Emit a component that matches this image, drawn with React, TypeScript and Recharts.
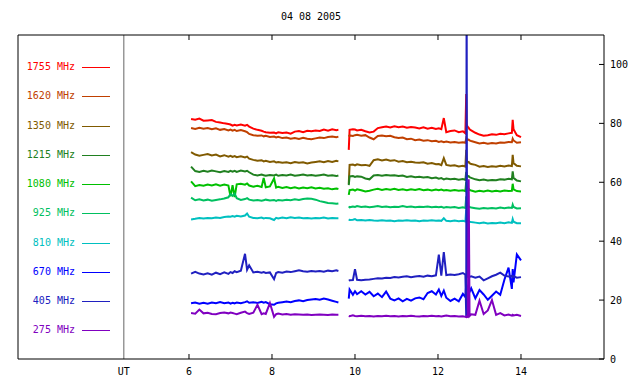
import { LineChart, Line, XAxis, YAxis, ReferenceLine, Legend } from "recharts";

const FONT = "'DejaVu Sans Mono', monospace";

// UT hours of the samples; 9.7 is the data gap
const TIMES = [
  6.05, 6.15, 6.25, 6.35, 6.45, 6.55, 6.65, 6.75, 6.85, 6.95,
  7.0, 7.05, 7.1, 7.15, 7.25, 7.35, 7.4, 7.45, 7.55, 7.65,
  7.75, 7.8, 7.85, 7.95, 8.05, 8.1, 8.15, 8.25, 8.35, 8.45,
  8.55, 8.65, 8.75, 8.85, 8.95, 9.05, 9.15, 9.25, 9.35, 9.45,
  9.55, 9.6,
  9.7,
  9.85, 9.87, 9.95, 10.0, 10.05, 10.15, 10.25, 10.35, 10.45, 10.55,
  10.65, 10.75, 10.85, 10.95, 11.05, 11.15, 11.25, 11.35, 11.45, 11.55,
  11.65, 11.75, 11.85, 11.95, 12.02, 12.08, 12.14, 12.2, 12.3, 12.4,
  12.5, 12.6, 12.66, 12.68, 12.69, 12.7, 12.72, 12.74, 12.76, 12.8,
  12.9, 13.0, 13.1, 13.2, 13.3, 13.4, 13.5, 13.6, 13.7, 13.78,
  13.8, 13.82, 13.9, 14.0,
];

const S1755 = [
  81.5, 81.2, 81.6, 80.9, 81.0, 81.1, 80.5, 80.3, 80.0, 79.8,
  79.6, 79.2, 79.5, 79.3, 79.6, 79.2, 79.5, 78.9, 78.2, 77.8,
  77.5, 77.2, 77.0, 76.8, 76.9, 76.6, 77.0, 76.7, 76.9, 76.5,
  77.2, 77.4, 77.0, 77.5, 77.3, 77.6, 77.4, 77.9, 77.5, 78.0,
  77.7, 77.8,
  null,
  71.0, 77.8, 78.0, 77.9, 77.6, 77.8, 77.3, 76.9, 77.2, 78.4,
  78.7, 78.9, 78.6, 79.0, 78.7, 78.9, 78.5, 78.8, 78.6, 78.3,
  78.7, 78.2, 78.5, 78.1, 78.3, 78.0, 81.8, 77.0, 77.4, 77.6,
  77.0, 77.3, 76.6, 90.0, 80.0, 79.2, 78.8, 78.5, 78.0, 77.6,
  76.8, 76.2, 75.8, 76.0, 76.3, 76.1, 76.5, 76.3, 76.6, 76.8,
  81.2, 78.0, 76.0, 75.3,
];

const S1620 = [
  78.4, 78.1, 78.5, 78.2, 78.4, 78.0, 78.3, 77.8, 78.1, 77.6,
  77.9, 77.5, 77.8, 77.4, 77.7, 77.3, 77.0, 76.4, 76.0, 75.8,
  75.9, 75.6, 75.8, 75.4, 75.5, 75.2, 75.4, 75.0, 75.2, 74.8,
  75.0, 74.7, 75.1, 74.8, 74.6, 74.9, 75.2, 75.0, 75.4, 75.5,
  75.3, 75.5,
  null,
  75.5, 75.9, 75.7, 76.0, 76.1, 75.8, 76.0, 75.2, 74.6, 75.7,
  75.9, 75.6, 75.8, 75.3, 75.0, 75.2, 74.6, 74.8, 74.3, 74.5,
  74.1, 74.3, 73.9, 74.1, 73.7, 73.9, 73.6, 73.8, 73.5, 73.7,
  73.4, 73.6, 73.4, 75.0, 74.8, 74.6, 74.4, 74.5, 74.2, 74.0,
  73.6, 73.2, 73.4, 73.1, 73.3, 73.2, 73.5, 73.4, 73.7, 73.6,
  74.8, 74.2, 73.4, 73.6,
];

const S1350 = [
  70.2, 69.4, 69.0, 69.3, 69.6, 69.1, 69.4, 68.8, 69.2, 68.7,
  69.0, 68.6, 68.9, 68.5, 68.8, 68.4, 68.7, 68.0, 67.6, 67.3,
  67.5, 67.1, 67.3, 66.9, 67.1, 66.7, 66.9, 66.6, 66.8, 66.5,
  66.9, 66.6, 66.8, 66.4, 66.7, 66.9, 67.1, 66.8, 67.2, 66.9,
  67.3, 67.1,
  null,
  59.5, 65.9, 66.0, 65.7, 66.1, 65.8, 65.9, 65.6, 67.5, 67.8,
  67.4, 67.7, 67.3, 67.5, 67.0, 67.2, 66.8, 67.0, 66.7, 66.6,
  66.8, 66.3, 66.5, 66.1, 66.2, 65.8, 68.2, 65.9, 65.6, 65.8,
  65.4, 65.6, 65.3, 71.0, 68.0, 67.0, 66.8, 66.9, 66.5, 66.2,
  65.9, 65.3, 65.5, 65.2, 65.4, 65.3, 65.6, 65.4, 65.7, 65.5,
  69.3, 66.5, 65.6, 65.4,
];

const S1215 = [
  65.3, 63.8, 63.5, 63.9, 63.6, 64.0, 63.7, 63.4, 63.8, 63.5,
  63.9, 63.6, 63.9, 63.5, 64.0, 63.7, 63.9, 63.4, 62.6, 62.3,
  62.6, 62.4, 62.2, 62.5, 62.3, 62.6, 62.2, 62.5, 62.3, 62.6,
  62.2, 62.4, 62.6, 62.3, 62.5, 62.2, 62.4, 62.6, 62.2, 62.4,
  62.1, 62.3,
  null,
  59.0, 62.0, 62.1, 61.8, 62.0, 61.9, 61.3, 61.0, 62.3, 62.5,
  62.2, 62.5, 62.3, 62.4, 62.1, 62.3, 61.8, 62.0, 61.7, 61.9,
  61.6, 61.8, 61.4, 61.6, 61.2, 61.4, 61.0, 61.3, 61.0, 61.2,
  60.9, 61.1, 60.8, 63.5, 62.8, 62.3, 62.0, 62.1, 61.7, 61.5,
  61.0, 60.7, 60.9, 60.6, 60.8, 60.7, 61.0, 60.9, 61.2, 61.0,
  63.7, 61.5, 60.6, 60.3,
];

const S1080 = [
  60.3, 58.7, 59.1, 58.8, 59.2, 58.9, 59.3, 58.8, 59.2, 58.9,
  55.2, 59.0, 55.0, 59.3, 59.5, 59.2, 59.6, 58.9, 58.5, 58.8,
  58.4, 61.5, 58.3, 58.6, 61.3, 58.2, 58.5, 58.1, 58.4, 58.0,
  58.3, 57.9, 58.2, 58.0, 58.3, 57.9, 58.1, 57.8, 58.0, 57.6,
  57.9, 57.7,
  null,
  55.7, 57.3, 57.5, 57.2, 57.6, 57.3, 56.9, 57.1, 57.5, 57.8,
  57.4, 57.7, 57.5, 57.8, 57.4, 57.6, 57.3, 57.6, 57.4, 57.7,
  57.3, 57.5, 57.2, 57.5, 57.3, 57.5, 57.2, 57.4, 57.1, 57.4,
  57.1, 57.3, 57.0, 60.2, 59.0, 58.6, 58.0, 57.8, 57.4, 57.2,
  56.8, 57.1, 56.9, 57.2, 56.9, 57.1, 56.9, 57.2, 57.0, 57.1,
  59.5, 57.6, 57.0, 56.9,
];

const S925 = [
  54.8, 53.9, 54.2, 53.8, 54.1, 53.7, 54.0, 54.2, 54.5, 54.9,
  56.0, 55.4, 56.2, 54.6, 54.0, 54.3, 54.6, 54.1, 53.8, 54.0,
  53.7, 53.9, 54.1, 53.8, 54.0, 53.7, 54.0, 53.8, 54.1, 53.9,
  54.2, 54.0, 54.3, 54.5, 54.4, 54.1, 53.6, 53.3, 53.0, 52.9,
  52.7, 52.8,
  null,
  51.8, 51.5, 51.8, 51.6, 51.9, 51.6, 51.8, 51.5, 51.7, 51.9,
  51.6, 51.8, 51.5, 51.7, 51.6, 51.9, 51.6, 51.8, 51.5, 51.7,
  51.6, 51.8, 51.5, 51.7, 51.5, 51.7, 51.4, 51.6, 51.4, 51.6,
  51.3, 51.5, 51.3, 55.2, 53.5, 52.6, 52.0, 51.8, 51.6, 51.4,
  51.2, 51.0, 51.3, 51.1, 51.3, 51.1, 51.4, 51.2, 51.4, 51.3,
  52.4, 51.6, 51.1, 51.2,
];

const S810 = [
  47.4, 47.6, 47.9, 47.7, 47.9, 47.8, 48.0, 47.9, 48.2, 48.4,
  48.3, 48.5, 48.3, 48.6, 48.4, 48.7, 49.4, 48.3, 47.9, 47.8,
  48.0, 47.7, 47.9, 47.8, 47.2, 47.9, 47.7, 48.0, 47.8, 48.1,
  47.9, 48.0, 47.8, 47.9, 47.7, 47.9, 47.8, 48.0, 47.7, 47.9,
  47.8, 47.8,
  null,
  47.4, 47.2, 47.3, 47.5, 47.1, 47.2, 47.0, 47.2, 47.0, 46.9,
  47.1, 46.9, 47.0, 46.8, 47.0, 46.9, 47.1, 46.9, 47.0, 46.8,
  47.0, 46.9, 47.1, 46.9, 47.0, 46.9, 47.8, 46.9, 46.8, 47.0,
  46.8, 46.9, 46.7, 50.7, 48.5, 47.5, 47.0, 46.9, 46.6, 46.5,
  46.3, 46.1, 46.3, 46.0, 46.2, 46.1, 46.3, 46.1, 46.4, 46.2,
  47.5, 46.6, 46.1, 46.1,
];

const S670 = [
  18.9, 19.2, 18.8, 19.1, 18.8, 19.2, 18.9, 19.3, 18.9, 19.2,
  18.8, 19.1, 18.9, 19.2, 18.9, 19.3, 19.6, 19.1, 19.3, 19.0,
  19.4, 19.1, 19.3, 18.6, 18.4, 18.9, 19.1, 19.3, 19.5, 19.3,
  19.7, 19.9, 19.6, 20.0, 20.2, 20.4, 20.1, 20.5, 20.2, 19.8,
  19.4, 19.2,
  null,
  20.5, 23.6, 21.8, 23.0, 22.0, 23.0, 21.9, 22.8, 21.3, 22.2,
  21.0, 22.9, 20.5, 19.9, 20.6, 19.6, 20.4, 19.8, 20.6, 20.9,
  20.3, 22.4, 23.0, 21.9, 23.6, 21.4, 23.2, 20.8, 19.7, 20.5,
  19.6, 22.1, 21.0, 25.5, 23.5, 25.0, 23.4, 24.6, 22.8, 24.0,
  20.6, 23.4, 21.9, 20.1, 21.5, 22.9, 21.8, 26.9, 31.0, 23.8,
  30.5, 26.0, 35.5, 33.5,
];

const S405 = [
  29.0, 29.6, 29.0, 28.7, 29.1, 28.6, 29.3, 28.8, 29.4, 28.9,
  29.5, 29.2, 29.8, 29.5, 30.0, 35.7, 30.3, 31.8, 29.4, 29.6,
  29.3, 29.5, 29.2, 29.4, 27.1, 29.2, 29.5, 29.3, 29.7, 29.5,
  29.8, 30.1, 29.8, 29.6, 29.9, 29.7, 29.9, 29.6, 30.0, 29.8,
  30.1, 29.9,
  null,
  26.6, 26.7, 26.8, 30.5, 26.9, 26.7, 26.9, 27.0, 27.2, 27.4,
  27.3, 27.6, 27.5, 27.8, 27.7, 27.9, 28.1, 27.8, 28.0, 28.2,
  27.9, 28.3, 28.1, 28.4, 35.4, 28.3, 36.3, 28.5, 28.7, 28.5,
  28.8, 29.2, 28.6, 14.5, 130, 28.4, 28.0, 28.3, 27.9, 28.1,
  27.6, 28.0, 26.7, 27.4, 28.1, 28.6, 29.3, 28.3, 28.0, 28.2,
  27.8, 28.1, 27.6, 27.8,
];

const S275 = [
  15.6, 15.4, 16.8, 15.5, 15.7, 15.3, 15.2, 15.6, 15.8, 15.5,
  15.8, 15.6, 15.4, 15.2, 15.7, 16.1, 15.6, 15.3, 15.7, 18.4,
  15.2, 15.5, 15.3, 19.0, 14.3, 15.2, 15.4, 15.1, 15.3, 15.0,
  15.2, 15.1, 15.0, 15.1, 14.9, 15.0, 15.1, 15.0, 14.9, 15.1,
  15.0, 15.0,
  null,
  14.6, 14.5, 14.8, 14.6, 14.5, 14.7, 14.5, 14.6, 14.4, 14.6,
  14.5, 14.7, 14.5, 14.6, 14.4, 14.6, 14.5, 14.7, 14.5, 14.4,
  14.6, 14.5, 14.7, 14.5, 14.6, 14.4, 14.6, 14.8, 14.5, 14.6,
  14.4, 14.5, 14.3, 14.2, 14.4, 14.2, 14.3, 61.0, 14.6, 15.2,
  15.0, 19.8, 15.3, 16.5, 20.0, 15.0, 15.6, 14.8, 15.1, 14.7,
  15.0, 14.8, 15.0, 14.6,
];

const SERIES = [
  { key: "f1755", name: "1755 MHz", color: "#ff0000", values: S1755 },
  { key: "f1620", name: "1620 MHz", color: "#c04000", values: S1620 },
  { key: "f1350", name: "1350 MHz", color: "#805a00", values: S1350 },
  { key: "f1215", name: "1215 MHz", color: "#208020", values: S1215 },
  { key: "f1080", name: "1080 MHz", color: "#00c000", values: S1080 },
  { key: "f925", name: "925 MHz", color: "#00c060", values: S925 },
  { key: "f810", name: "810 MHz", color: "#00c0c0", values: S810 },
  { key: "f670", name: "670 MHz", color: "#0000ff", values: S670 },
  { key: "f405", name: "405 MHz", color: "#2020c0", values: S405 },
  { key: "f275", name: "275 MHz", color: "#8000c0", values: S275 },
];

const UT_MARK = 4.43;
const X_TICKS = [UT_MARK, 6, 8, 10, 12, 14];
const Y_TICKS = [0, 20, 40, 60, 80, 100];

const data = TIMES.map((t, i) => {
  const row: Record<string, number | null> = { t };
  SERIES.forEach((s) => {
    row[s.key] = s.values[i];
  });
  return row;
});

// gnuplot style: ticks point inward
const BottomTick = ({ x, y, payload }: any) => (
  <g>
    {payload.value !== UT_MARK && (
      <line x1={x} y1={y} x2={x} y2={y - 5} stroke="#000" />
    )}
    <text x={x} y={y + 16} textAnchor="middle" fontSize={10} fontFamily={FONT} fill="#000">
      {payload.value === UT_MARK ? "UT" : payload.value}
    </text>
  </g>
);

const TopTick = ({ x, y }: any) => (
  <line x1={x} y1={y} x2={x} y2={y + 5} stroke="#000" />
);

const RightTick = ({ x, y, payload }: any) => (
  <g>
    <line x1={x - 5} y1={y} x2={x} y2={y} stroke="#000" />
    <text x={x + 6} y={y + 3.5} textAnchor="start" fontSize={10} fontFamily={FONT} fill="#000">
      {payload.value}
    </text>
  </g>
);

const FreqLegend = () => (
  <div style={{ position: "relative", width: 120, height: 290, fontFamily: FONT, fontSize: 10 }}>
    {SERIES.map((s, i) => (
      <div
        key={s.key}
        style={{
          position: "absolute",
          left: 0,
          top: Math.round(i * 29.27),
          width: 120,
          height: 14,
        }}
      >
        <div
          style={{
            position: "absolute",
            left: 0,
            top: 0,
            width: 75,
            textAlign: "right",
            color: s.color,
            lineHeight: "14px",
          }}
        >
          {s.name}
        </div>
        <div
          style={{
            position: "absolute",
            left: 82,
            top: 7,
            width: 28,
            height: 0,
            borderTop: `1px solid ${s.color}`,
          }}
        />
      </div>
    ))}
  </div>
);

export default function App() {
  return (
    <div style={{ position: "absolute", left: 0, top: 0, width: 640, height: 384, background: "#fff" }}>
      <div
        style={{
          position: "absolute",
          left: 0,
          top: 10,
          width: 622,
          textAlign: "center",
          fontFamily: FONT,
          fontSize: 10,
          lineHeight: "14px",
          color: "#000",
        }}
      >
        04 08 2005
      </div>
      <LineChart
        width={640}
        height={384}
        data={data}
        margin={{ top: 34, right: 0, bottom: 0, left: 17 }}
      >
        <XAxis
          dataKey="t"
          type="number"
          domain={[1.88, 16]}
          ticks={X_TICKS}
          allowDataOverflow
          height={25}
          tickSize={0}
          tickMargin={0}
          tickLine={false}
          axisLine={{ stroke: "#000" }}
          tick={<BottomTick />}
          interval={0}
        />
        <XAxis
          xAxisId="top"
          orientation="top"
          dataKey="t"
          type="number"
          domain={[1.88, 16]}
          ticks={[6, 8, 10, 12, 14]}
          allowDataOverflow
          height={1}
          tickSize={0}
          tickMargin={0}
          tickLine={false}
          axisLine={{ stroke: "#000" }}
          tick={<TopTick />}
          interval={0}
        />
        <YAxis
          yAxisId="right"
          orientation="right"
          domain={[0, 110]}
          ticks={Y_TICKS}
          allowDataOverflow
          width={36}
          tickSize={0}
          tickMargin={0}
          tickLine={false}
          axisLine={{ stroke: "#000" }}
          tick={<RightTick />}
          interval={0}
        />
        <YAxis
          yAxisId="left"
          orientation="left"
          domain={[0, 110]}
          width={1}
          tick={false}
          tickLine={false}
          axisLine={{ stroke: "#000" }}
        />
        <ReferenceLine x={UT_MARK} yAxisId="right" stroke="#666" strokeWidth={1} />
        <Legend
          layout="vertical"
          align="center"
          verticalAlign="middle"
          wrapperStyle={{ left: 0, top: 60, width: 120, height: 290 }}
          content={() => <FreqLegend />}
        />
        {SERIES.map((s) => (
          <Line
            key={s.key}
            yAxisId="right"
            type="linear"
            dataKey={s.key}
            name={s.name}
            stroke={s.color}
            strokeWidth={2}
            dot={false}
            activeDot={false}
            connectNulls={false}
            isAnimationActive={false}
          />
        ))}
      </LineChart>
    </div>
  );
}
